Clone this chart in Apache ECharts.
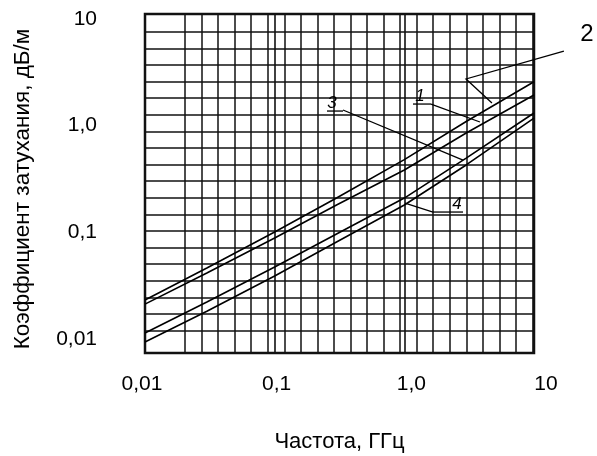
<!DOCTYPE html>
<html>
<head>
<meta charset="utf-8">
<script src="https://cdn.jsdelivr.net/npm/echarts@6/dist/echarts.min.js"></script>
<style>html,body{margin:0;padding:0;background:#fff}#c{width:597px;height:456px}</style>
</head>
<body>
<div id="c"></div>
<script>
// Frequency, GHz
const freq = [0.01, 0.03, 0.1, 0.3, 1, 3, 10];
// Attenuation, dB/m
const curve2 = [0.0232, 0.0462, 0.1005, 0.209, 0.479, 1.09, 2.57];
const curve1 = [0.0212, 0.0415, 0.0883, 0.180, 0.383, 0.851, 1.93];
const curve3 = [0.01135, 0.0222, 0.0472, 0.0962, 0.209, 0.495, 1.31];
const curve4 = [0.00934, 0.0182, 0.0389, 0.0809, 0.180, 0.427, 1.175];
const xTickValues = [0.01, 0.1, 1, 10];
const xTickLabels = ['0,01', '0,1', '1,0', '10'];
const yTickValues = [0.01, 0.1, 1, 10];
const yTickLabels = ['0,01', '0,1', '1,0', '10'];
const xName = 'Частота, ГГц';
const yName = 'Коэффициент затухания, дБ/м';
// curve annotations (data space): label text, label anchor, underline, leader polyline
const notes = [
  {text: '2', at: [25.6, 7.2], size: 24, italic: false, under: null, leader: [[17.0, 4.99], [2.99, 2.73], [4.74, 1.625]]},
  {text: '1', at: [1.32, 1.89], size: 17, italic: true, under: [[1.166, 1.59], [1.606, 1.59]], leader: [[1.606, 1.59], [3.83, 1.079]]},
  {text: '3', at: [0.2767, 1.625], size: 17, italic: true, under: [[0.2533, 1.367], [0.3365, 1.367]], leader: [[0.3365, 1.398], [2.835, 0.475]]},
  {text: '4', at: [2.547, 0.1837], size: 17, italic: true, under: [[1.664, 0.1546], [2.835, 0.1546]], leader: [[1.664, 0.1546], [1.012, 0.1878]]}
];

const FONT = "'Liberation Sans', Arial, sans-serif";
const INK = '#111';
const fmt = (vals, labs) => v => { for (let i = 0; i < vals.length; i++) if (Math.abs(Math.log10(v) - Math.log10(vals[i])) < 1e-6) return labs[i]; return ''; };
const mk = ys => freq.map((f, i) => [f, ys[i]]);
const hidden = {axisLine: {show: false}, axisTick: {show: false}, axisLabel: {show: false}, splitLine: {show: false}};

const chart = echarts.init(document.getElementById('c'), null, {renderer: 'canvas'});
chart.setOption({
  animation: false,
  backgroundColor: '#fff',
  grid: [
    {left: 145, top: 14, width: 389, height: 339, show: true, borderColor: INK, borderWidth: 2.5, backgroundColor: 'transparent', z: 5},
    {left: 142, top: 18.8, width: 404, height: 320.1},
    {left: 185, top: 14, width: 347.5, height: 339},
    {left: 145, top: 31.7, width: 389, height: 298.8}
  ],
  xAxis: [
    Object.assign({}, hidden, {type: 'log', gridIndex: 0, min: 0.01, max: 10, logBase: 10,
      splitLine: {show: true, lineStyle: {color: INK, width: 1.6}}}),
    Object.assign({}, hidden, {type: 'log', gridIndex: 1, min: 0.01, max: 10, logBase: 10,
      axisLabel: {show: true, margin: 35, fontSize: 21, color: '#000', fontFamily: FONT, formatter: fmt(xTickValues, xTickLabels)}}),
    Object.assign({}, hidden, {type: 'value', gridIndex: 2, min: 0, max: 21, interval: 1,
      splitLine: {show: true, lineStyle: {color: INK, width: 1.5}}}),
    Object.assign({}, hidden, {type: 'value', gridIndex: 3, min: 0, max: 1, show: false})
  ],
  yAxis: [
    Object.assign({}, hidden, {type: 'log', gridIndex: 0, min: 0.00738, max: 11.1, logBase: 10}),
    Object.assign({}, hidden, {type: 'log', gridIndex: 1, min: 0.01, max: 10, logBase: 10,
      axisLabel: {show: true, margin: 45, fontSize: 21, color: '#000', fontFamily: FONT, formatter: fmt(yTickValues, yTickLabels)}}),
    Object.assign({}, hidden, {type: 'value', gridIndex: 2, min: 0, max: 1, show: false}),
    Object.assign({}, hidden, {type: 'value', gridIndex: 3, min: 0, max: 18, interval: 1,
      splitLine: {show: true, lineStyle: {color: INK, width: 1.5}}})
  ],
  series: [
    {name: '2', type: 'line', xAxisIndex: 0, yAxisIndex: 0, data: mk(curve2), symbol: 'none', lineStyle: {color: '#000', width: 1.6}, z: 10},
    {name: '1', type: 'line', xAxisIndex: 0, yAxisIndex: 0, data: mk(curve1), symbol: 'none', lineStyle: {color: '#000', width: 1.6}, z: 10},
    {name: '3', type: 'line', xAxisIndex: 0, yAxisIndex: 0, data: mk(curve3), symbol: 'none', lineStyle: {color: '#000', width: 1.6}, z: 10},
    {name: '4', type: 'line', xAxisIndex: 0, yAxisIndex: 0, data: mk(curve4), symbol: 'none', lineStyle: {color: '#000', width: 1.6}, z: 10}
  ]
});

// annotations positioned through the chart's own coordinate system (log-space extrapolation beyond the axis range)
const pA = chart.convertToPixel({xAxisIndex: 0, yAxisIndex: 0}, [0.01, 0.01]);
const pB = chart.convertToPixel({xAxisIndex: 0, yAxisIndex: 0}, [10, 10]);
const px = p => [
  pA[0] + (Math.log10(p[0]) + 2) / 3 * (pB[0] - pA[0]),
  pA[1] + (Math.log10(p[1]) + 2) / 3 * (pB[1] - pA[1])
];
const g = [
  {type: 'text', style: {text: xName, x: 339.5, y: 442, font: '22px ' + FONT, fill: '#000', align: 'center', verticalAlign: 'middle'}},
  {type: 'text', x: 23, y: 189, rotation: Math.PI / 2,
    style: {text: yName, x: 0, y: 0, font: '22.5px ' + FONT, fill: '#000', align: 'center', verticalAlign: 'middle'}}
];
notes.forEach(n => {
  const c = px(n.at);
  g.push({type: 'text', z: 20, style: {text: n.text, x: c[0], y: c[1], align: 'center', verticalAlign: 'middle',
    font: (n.italic ? 'italic ' : '') + n.size + 'px ' + FONT, fill: '#000'}});
  if (n.under) g.push({type: 'polyline', z: 20, shape: {points: n.under.map(px)}, style: {stroke: '#000', lineWidth: 1.3, fill: null}});
  g.push({type: 'polyline', z: 20, shape: {points: n.leader.map(px)}, style: {stroke: '#000', lineWidth: 1.3, fill: null}});
});
chart.setOption({graphic: g});
</script>
</body>
</html>
